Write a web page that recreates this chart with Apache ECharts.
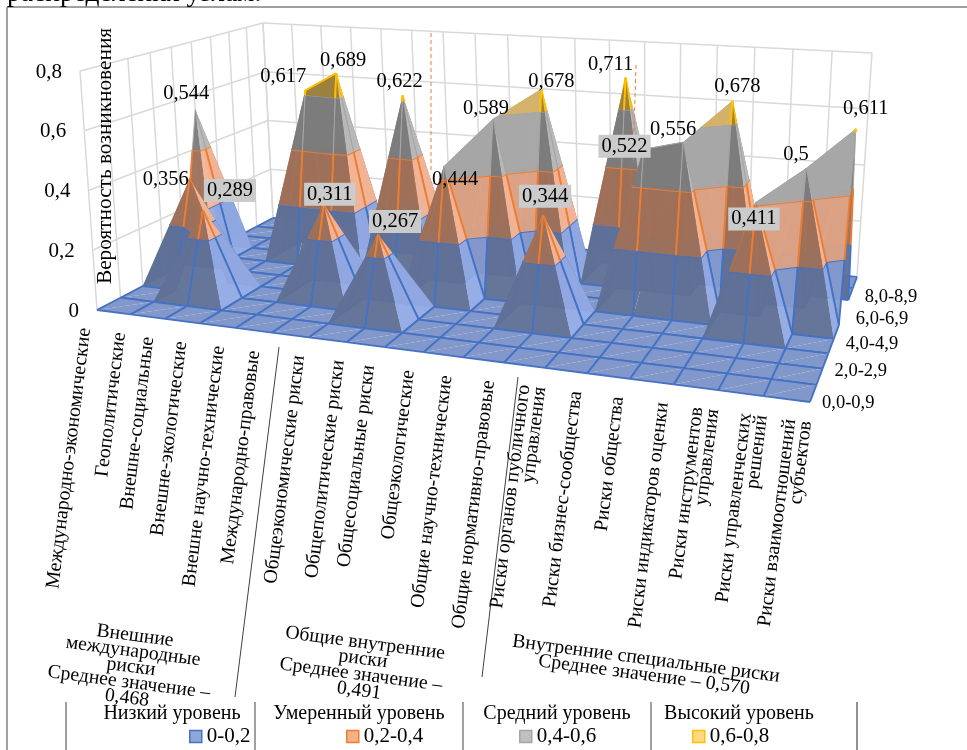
<!DOCTYPE html>
<html>
<head>
<meta charset="utf-8">
<script src="https://cdn.jsdelivr.net/npm/echarts@6/dist/echarts.min.js"></script>
<style>
html, body { margin: 0; padding: 0; background: #fff; }
#main { width: 967px; height: 750px; }
</style>
</head>
<body>
<div id="main"></div>
<script>
// категории
var categories = ['Международно-экономические', 'Геополитические', 'Внешне-социальные', 'Внешне-экологические',
    'Внешне научно-технические', 'Международно-правовые', 'Общеэкономические риски', 'Общеполитические риски',
    'Общесоциальные риски', 'Общеэкологические', 'Общие научно-технические', 'Общие нормативно-правовые',
    'Риски органов публичного\nуправления', 'Риски бизнес-сообщества', 'Риски общества', 'Риски индикаторов оценки',
    'Риски инструментов\nуправления', 'Риски управленческих\nрешений', 'Риски взаимоотношений\nсубъектов'];
var depthLabels = ['0,0-0,9', '2,0-2,9', '4,0-4,9', '6,0-6,9', '8,0-8,9'];
var depthTicks = [0, 2, 4, 6, 8];
var zTicks = [0, 0.2, 0.4, 0.6, 0.8];
var zTickLabels = ['0', '0,2', '0,4', '0,6', '0,8'];

// значения: строка = интервал оценки, столбец = категория
var row0 = [0, 0, 0, 0, 0, 0, 0, 0, 0, 0, 0, 0, 0, 0, 0, 0, 0, 0, 0];
var row1 = [0, 0, 0, 0, 0, 0, 0, 0, 0, 0, 0, 0, 0, 0, 0, 0, 0, 0, 0];
var row2 = [0, 0, 0.289, 0, 0, 0, 0, 0.267, 0, 0, 0, 0, 0, 0, 0, 0, 0, 0, 0];
var row3 = [0, 0.356, 0, 0, 0, 0.311, 0, 0, 0, 0, 0, 0.344, 0, 0, 0, 0, 0, 0, 0];
var row4 = [0, 0, 0, 0, 0, 0, 0, 0, 0.444, 0, 0, 0, 0, 0, 0, 0, 0.411, 0, 0];
var row5 = [0.544, 0, 0, 0, 0, 0, 0, 0, 0, 0.589, 0, 0, 0, 0.522, 0.556, 0, 0, 0.5, 0];
var row6 = [0, 0, 0, 0.617, 0.689, 0, 0.622, 0, 0, 0, 0.678, 0, 0, 0, 0, 0.678, 0, 0, 0.611];
var row7 = [0, 0, 0, 0, 0, 0, 0, 0, 0, 0, 0, 0, 0.711, 0, 0, 0, 0, 0, 0];
var row8 = [0, 0, 0, 0, 0, 0, 0, 0, 0, 0, 0, 0, 0, 0, 0, 0, 0, 0, 0];
var row9 = [0, 0, 0, 0, 0, 0, 0, 0, 0, 0, 0, 0, 0, 0, 0, 0, 0, 0, 0];
var rows = [row0, row1, row2, row3, row4, row5, row6, row7, row8, row9];

var bandNames = ['0-0,2', '0,2-0,4', '0,4-0,6', '0,6-0,8'];
var bandTitles = ['Низкий уровень', 'Умеренный уровень', 'Средний уровень', 'Высокий уровень'];
var bandEdges = [0, 0.2, 0.4, 0.6, 0.8];
var bandDark = ['rgba(96,112,150,0.96)', 'rgba(158,112,90,0.96)', 'rgba(124,124,124,0.96)', 'rgba(156,128,62,0.96)'];
var bandLight = ['rgba(146,170,228,0.96)', 'rgba(245,182,152,0.96)', 'rgba(186,186,186,0.96)', 'rgba(236,198,124,0.96)'];
var bandLine = ['#4472c4', '#ed7d31', '#a5a5a5', '#ffc000'];
var floorColor = 'rgba(126,148,200,0.97)';

var FONT = '"Liberation Serif"';
var nI = categories.length - 1, nD = rows.length - 1, zMax = 0.8;

// углы пола и верхней плоскости куба на экране
function quad(p0, p1, p2, p3) {
    var dx1 = p1[0] - p2[0], dx2 = p3[0] - p2[0], dx3 = p0[0] - p1[0] + p2[0] - p3[0];
    var dy1 = p1[1] - p2[1], dy2 = p3[1] - p2[1], dy3 = p0[1] - p1[1] + p2[1] - p3[1];
    var den = dx1 * dy2 - dx2 * dy1;
    var g = (dx3 * dy2 - dx2 * dy3) / den, h = (dx1 * dy3 - dx3 * dy1) / den;
    var a = p1[0] - p0[0] + g * p1[0], b = p3[0] - p0[0] + h * p3[0];
    var d = p1[1] - p0[1] + g * p1[1], e = p3[1] - p0[1] + h * p3[1];
    return function (u, v) {
        var w = g * u + h * v + 1;
        return [(a * u + b * v + p0[0]) / w, (d * u + e * v + p0[1]) / w];
    };
}
var floorMap = quad([97, 310], [810, 402], [857, 277], [273, 218]);
var topMap = quad([80, 71], [827, 122], [872, 53], [263, 23]);

function project(i, d, z) {
    var a = floorMap(i / nI, d / nD), b = topMap(i / nI, d / nD), t = z / zMax;
    return [a[0] + (b[0] - a[0]) * t, a[1] + (b[1] - a[1]) * t];
}

// линии стен
var wallLines = [];
zTicks.forEach(function (z) {
    wallLines.push([project(0, 0, z), project(0, nD, z)]);
    wallLines.push([project(0, nD, z), project(nI, nD, z)]);
});
categories.forEach(function (c, i) { wallLines.push([project(i, nD, 0), project(i, nD, zMax)]); });
rows.forEach(function (r, d) { wallLines.push([project(0, d, 0), project(0, d, zMax)]); });

// разбиение поверхности на треугольники и полосы
function clipBand(tri, lo, hi) {
    function clip(poly, level, keepAbove) {
        var out = [];
        poly.forEach(function (p, k) {
            var q = poly[(k + 1) % poly.length];
            var pIn = keepAbove ? p[2] >= level : p[2] <= level;
            var qIn = keepAbove ? q[2] >= level : q[2] <= level;
            if (pIn) out.push(p);
            if (pIn !== qIn) {
                var t = (level - p[2]) / (q[2] - p[2]);
                out.push([p[0] + (q[0] - p[0]) * t, p[1] + (q[1] - p[1]) * t, level]);
            }
        });
        return out;
    }
    return clip(clip(tri, lo, true), hi, false);
}

function onDiag(p, diag) {
    var ax = diag[0][0], ay = diag[0][1], bx = diag[1][0], by = diag[1][1];
    return Math.abs((bx - ax) * (p[1] - ay) - (by - ay) * (p[0] - ax)) < 1e-9;
}

var facets = [];
for (var d = nD - 1; d >= 0; d--) {
    for (var i = 0; i < nI; i++) {
        var v00 = [i, d, rows[d][i]], v10 = [i + 1, d, rows[d][i + 1]];
        var v11 = [i + 1, d + 1, rows[d + 1][i + 1]], v01 = [i, d + 1, rows[d + 1][i]];
        var highest = Math.max(v00[2], v10[2], v11[2], v01[2]);
        var diag, tris;
        if (highest === v00[2] || highest === v11[2]) {
            diag = [v00, v11];
            tris = [[v00, v11, v01], [v00, v10, v11]];
        } else {
            diag = [v10, v01];
            tris = [[v01, v10, v11], [v00, v10, v01]];
        }
        tris.forEach(function (tri) {
            var e1 = [tri[1][0] - tri[0][0], tri[1][1] - tri[0][1], tri[1][2] - tri[0][2]];
            var e2 = [tri[2][0] - tri[0][0], tri[2][1] - tri[0][1], tri[2][2] - tri[0][2]];
            var nx = e1[1] * e2[2] - e1[2] * e2[1], ny = e1[2] * e2[0] - e1[0] * e2[2], nz = e1[0] * e2[1] - e1[1] * e2[0];
            var fx = -nx / nz, fy = -ny / nz;
            var flat = Math.abs(fx) + Math.abs(fy) < 1e-9;
            var r = Math.max(-fx, 0), f = Math.max(fy, 0);
            var shade = r + f > 0 ? Math.pow(r / (r + f), 0.4) : 0;
            bandNames.forEach(function (b, k) {
                var poly = clipBand(tri, bandEdges[k], bandEdges[k + 1]);
                if (poly.length < 3) return;
                if (flat && k > 0) return;
                facets.push({ band: k, poly: poly, diag: diag, shade: shade, flat: flat });
            });
        });
    }
}

function mixColor(a, b, t) {
    var pa = a.match(/[\d.]+/g).map(Number), pb = b.match(/[\d.]+/g).map(Number);
    return 'rgba(' + [0, 1, 2].map(function (n) { return Math.round(pa[n] + (pb[n] - pa[n]) * t); }).join(',') + ',' + pa[3] + ')';
}

// подписи значений: сдвиг от вершины пика
var peakValues = [0.544, 0.356, 0.289, 0.617, 0.689, 0.311, 0.622, 0.267, 0.444, 0.589, 0.678, 0.344, 0.711, 0.522, 0.556, 0.678, 0.411, 0.5, 0.611];
var peakRows = [5, 3, 2, 6, 6, 3, 6, 2, 4, 5, 6, 3, 7, 5, 5, 6, 4, 5, 6];
var labelShift = [[-9, -16], [-24, 1], [27, -20], [-22, -14], [7, -13], [6, -10], [-3, -14], [17, -13], [11, 14], [-7, -10], [10, -7], [2, -19], [-15, -13], [-19, -3], [-10, -13], [5, -14], [-2, 17], [-10, -14], [10, -20]];
var labelBoxed = [2, 5, 7, 11, 13, 16];
// сдвиг подписей категорий по горизонтали
var categoryShift = [-4, -3, -9, -11, -9, -10, -2, 0, -8, -7, -9, -7, -3, -3, -4, -3, -3, 0, -2];

var texts = [];
function addText(s, x, y, o) {
    texts.push(Object.assign({ s: s, x: x, y: y, size: 20, rot: 0, align: 'center', vAlign: 'middle' }, o || {}));
}

zTicks.forEach(function (z, k) {
    var p = project(0, 0, z);
    addText(zTickLabels[k], p[0] - 18, p[1] + 1, { align: 'right', size: 21 });
});
depthTicks.forEach(function (d, k) {
    var p = project(nI, d, 0);
    addText(depthLabels[k], p[0] + 12, p[1] + 1 + k * 2, { align: 'left', size: 18.5 });
});
categories.forEach(function (c, i) {
    var p = project(i, 0, 0);
    var twoLines = c.indexOf('\n') >= 0;
    addText(c, p[0] - 8 + (twoLines ? -2 : 0) + categoryShift[i], p[1] + 18, { align: 'right', rot: 83, size: 19.8, lh: 16 });
});
addText('Вероятность возникновения', 105, 156, { rot: 90, size: 21.3 });
addText('Внешние\nмеждународные\nриски\nСреднее значение –\n0,468', 131, 667, { rot: -7.5, size: 19.7, lh: 15.7 });
addText('Общие внутренние\nриски\nСреднее значение –\n0,491', 362, 667, { rot: -7.5, size: 19.7, lh: 16 });
addText('Внутренние специальные риски\nСреднее значение – 0,570', 645, 667, { rot: -7.5, size: 19.7, lh: 16 });
addText('распределения узлам.', 7, 8, { align: 'left', vAlign: 'bottom', size: 27.5 });
[172, 359, 557, 739].forEach(function (x, k) { addText(bandTitles[k], x, 714, { size: 20 }); });

var valueTexts = peakValues.map(function (v, i) {
    var p = project(i, peakRows[i], v);
    return {
        s: String(v).replace('.', ','), x: p[0] + labelShift[i][0], y: p[1] + labelShift[i][1],
        boxed: labelBoxed.indexOf(i) >= 0
    };
});

// линии-разделители поверх графика
var sepLines = [
    { a: [431, 33], b: [431, 172], c: '#ed7d31', w: 1, dash: [4, 3] },
    { a: [636, 65], b: [633, 163], c: '#ed7d31', w: 1, dash: [4, 3] },
    { a: [279, 347], b: [235, 697], c: '#404040', w: 1 },
    { a: [518, 377], b: [482, 677], c: '#404040', w: 1 },
    { a: [66, 702], b: [66, 750], c: '#404040', w: 1 },
    { a: [255, 702], b: [255, 750], c: '#404040', w: 1 },
    { a: [463, 702], b: [463, 750], c: '#404040', w: 1 },
    { a: [651, 702], b: [651, 750], c: '#404040', w: 1 },
    { a: [857, 702], b: [857, 750], c: '#202020', w: 1 },
    { a: [7, 7], b: [967, 7], c: '#808080', w: 1.5 },
    { a: [7, 7], b: [7, 750], c: '#808080', w: 1.5 }
];

function line(api, a, b, c, w, dash) {
    var p = api.coord(a), q = api.coord(b);
    return {
        type: 'line',
        shape: { x1: p[0], y1: p[1], x2: q[0], y2: q[1] },
        style: { stroke: c, lineWidth: w, lineDash: dash || null }
    };
}

var legendFill = ['#8ea7d8', '#f4b183', '#c0c0c0', '#ffd97f'];
var legendLeft = [189, 346, 519, 692];

var option = {
    animation: false,
    grid: { left: 0, right: 0, top: 0, bottom: 0 },
    xAxis: { type: 'value', min: 0, max: 967, show: false },
    yAxis: { type: 'value', min: 0, max: 750, inverse: true, show: false },
    legend: bandNames.map(function (n, k) {
        return {
            left: legendLeft[k], top: 726, padding: 0, itemWidth: 12, itemHeight: 12, selectedMode: false,
            textStyle: { fontFamily: FONT, fontSize: 21, color: '#000' },
            data: [{ name: n, icon: 'rect', itemStyle: { color: legendFill[k], borderColor: bandLine[k], borderWidth: 1.5 } }]
        };
    }),
    series: bandNames.map(function (n) {
        return { name: n, type: 'custom', data: [], renderItem: function () { return null; } };
    }).concat([{
        name: 'стены', type: 'custom', silent: true, z: 1,
        data: wallLines.map(function (l, k) { return [k]; }),
        renderItem: function (params, api) {
            var l = wallLines[params.dataIndex];
            return line(api, l[0], l[1], '#d9d9d9', 1.5);
        }
    }, {
        name: 'поверхность', type: 'custom', silent: true, z: 2,
        data: facets.map(function (f, k) { return [k]; }),
        renderItem: function (params, api) {
            var f = facets[params.dataIndex];
            var pts = f.poly.map(function (p) { return api.coord(project(p[0], p[1], p[2])); });
            var fill = f.flat ? floorColor : mixColor(bandDark[f.band], bandLight[f.band], f.shade);
            var children = [{ type: 'polygon', shape: { points: pts }, style: { fill: fill } }];
            f.poly.forEach(function (p, k) {
                var n = (k + 1) % f.poly.length, q = f.poly[n];
                if (onDiag(p, f.diag) && onDiag(q, f.diag)) return;
                var lo = bandEdges[f.band];
                if (lo > 0 && Math.abs(p[2] - lo) < 1e-9 && Math.abs(q[2] - lo) < 1e-9) return;
                children.push({
                    type: 'line',
                    shape: { x1: pts[k][0], y1: pts[k][1], x2: pts[n][0], y2: pts[n][1] },
                    style: { stroke: bandLine[f.band], lineWidth: f.band === 2 ? 1 : 1.8 }
                });
            });
            return { type: 'group', children: children };
        }
    }, {
        name: 'разделители', type: 'custom', silent: true, z: 3,
        data: sepLines.map(function (l, k) { return [k]; }),
        renderItem: function (params, api) {
            var l = sepLines[params.dataIndex];
            return line(api, l.a, l.b, l.c, l.w, l.dash);
        }
    }, {
        name: 'подписи', type: 'custom', silent: true, z: 4,
        data: texts.map(function (t) { return [t.x, t.y]; }),
        renderItem: function (params, api) {
            var t = texts[params.dataIndex], p = api.coord([api.value(0), api.value(1)]);
            return {
                type: 'text', x: p[0], y: p[1], rotation: t.rot * Math.PI / 180,
                style: {
                    text: t.s, fill: '#000', fontFamily: FONT, fontSize: t.size,
                    align: t.align, verticalAlign: t.vAlign, lineHeight: t.lh
                }
            };
        }
    }, {
        name: 'значения', type: 'custom', silent: true, z: 5,
        data: valueTexts.map(function (t) { return [t.x, t.y]; }),
        renderItem: function (params, api) {
            var t = valueTexts[params.dataIndex], p = api.coord([api.value(0), api.value(1)]);
            return {
                type: 'text', x: p[0], y: p[1],
                style: {
                    text: t.s, fill: '#000', fontFamily: FONT, fontSize: 20.5, align: 'center', verticalAlign: 'middle',
                    backgroundColor: t.boxed ? '#cbcbcb' : null, padding: t.boxed ? [1, 3, 1, 3] : 0
                }
            };
        }
    }])
};

var myChart = echarts.init(document.getElementById('main'));
myChart.setOption(option);
</script>
</body>
</html>
